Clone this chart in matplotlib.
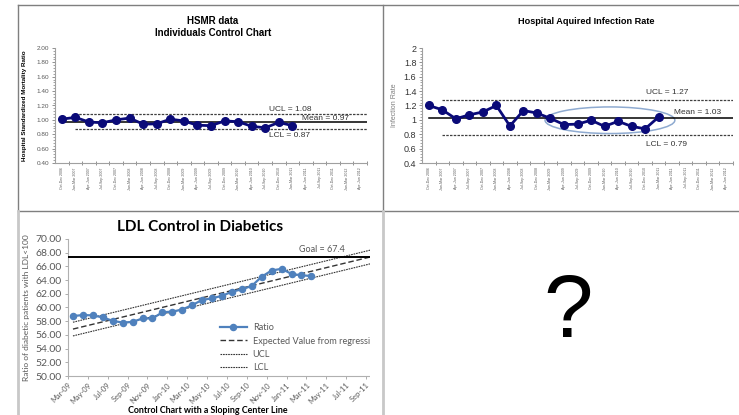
import matplotlib
matplotlib.use('Agg')
import matplotlib.pyplot as plt
import numpy as np
from matplotlib.lines import Line2D
from matplotlib.patches import Ellipse, Rectangle
from matplotlib.ticker import AutoMinorLocator, FixedLocator

# quarters shared by the two top charts
quarters = ['Oct-Dec 2006', 'Jan-Mar 2007', 'Apr-Jun 2007', 'Jul-Sep 2007',
            'Oct-Dec 2007', 'Jan-Mar 2008', 'Apr-Jun 2008', 'Jul-Sep 2008',
            'Oct-Dec 2008', 'Jan-Mar 2009', 'Apr-Jun 2009', 'Jul-Sep 2009',
            'Oct-Dec 2009', 'Jan-Mar 2010', 'Apr-Jun 2010', 'Jul-Sep 2010',
            'Oct-Dec 2010', 'Jan-Mar 2011', 'Apr-Jun 2011', 'Jul-Sep 2011',
            'Oct-Dec 2011', 'Jan-Mar 2012', 'Apr-Jun 2012']

# HSMR individuals chart
hsmr = [1.01, 1.035, 0.97, 0.96, 1.00, 1.025, 0.94, 0.945, 1.01,
        0.985, 0.925, 0.92, 0.985, 0.975, 0.91, 0.89, 0.965, 0.92]
hsmr_ucl, hsmr_mean, hsmr_lcl = 1.08, 0.97, 0.87

# hospital acquired infection rate
infection = [1.20, 1.14, 1.015, 1.07, 1.11, 1.20, 0.915, 1.13, 1.095,
             1.02, 0.935, 0.94, 0.995, 0.91, 0.98, 0.91, 0.875, 1.04]
inf_ucl, inf_mean, inf_lcl = 1.27, 1.03, 0.79

# LDL control, monthly from Mar-09
ldl_ratio = [58.75, 58.9, 58.85, 58.55, 58.05, 57.8, 57.9, 58.4, 58.4,
             59.3, 59.4, 59.7, 60.35, 61.1, 61.35, 61.7, 62.3, 62.65,
             63.15, 64.5, 65.4, 65.65, 64.9, 64.7, 64.6]
ldl_goal = 67.4
# sloping center line and limits, value at Mar-09 and at Sep-11
reg_months = [0, 30]
reg_expected = [56.85, 67.4]
reg_ucl = [57.85, 68.4]
reg_lcl = [55.85, 66.4]
month_labels = ['Mar-09', 'May-09', 'Jul-09', 'Sep-09', 'Nov-09', 'Jan-10',
                'Mar-10', 'May-10', 'Jul-10', 'Sep-10', 'Nov-10', 'Jan-11',
                'Mar-11', 'May-11', 'Jul-11', 'Sep-11']

W, H = 739, 415
NAVY = '#0a0a78'
GREY_TXT = '#595959'


def fx(px):
    return px / W


def fy(py):
    return 1 - py / H


def box(l, t, r, b):
    return [fx(l), fy(b), fx(r) - fx(l), fy(t) - fy(b)]


def quarterly_chart(ax, values, ucl, mean, lcl):
    n = len(quarters)
    x = np.arange(len(values))
    ax.plot(x, values, color=NAVY, lw=2, marker='o', ms=5.5, zorder=4)
    ax.plot([0, n - 0.5], [mean, mean], color='black', lw=1.1, zorder=3)
    for v in (ucl, lcl):
        ax.plot([1, n - 0.5], [v, v], color='#404040', lw=0.9,
                linestyle=(0, (2, 1)), zorder=3)
    ax.set_xlim(-0.5, n - 0.5)
    ax.set_ylim(0.4, 2.0)
    ax.set_xticks(np.arange(n))
    ax.set_xticklabels(quarters, rotation=90, fontsize=2.6, color=GREY_TXT)
    ax.xaxis.set_minor_locator(FixedLocator(np.arange(n) + 0.5))
    ax.tick_params(axis='x', which='major', length=0, pad=3)
    ax.tick_params(axis='x', which='minor', length=2.5, width=0.6,
                   color='#808080', direction='inout')
    ax.set_yticks(np.arange(0.4, 2.01, 0.2))
    ax.yaxis.set_minor_locator(AutoMinorLocator(5))
    ax.tick_params(axis='y', which='major', length=2.5, width=0.6,
                   color='#808080', pad=1.5)
    ax.tick_params(axis='y', which='minor', length=1.5, width=0.5,
                   color='#808080')
    for s in ('top', 'right'):
        ax.spines[s].set_visible(False)
    for s in ('left', 'bottom'):
        ax.spines[s].set_color('#a0a0a0')
        ax.spines[s].set_linewidth(0.8)


plt.rcParams['font.family'] = ['Liberation Sans', 'DejaVu Sans']
fig = plt.figure(figsize=(W / 100, H / 100), dpi=100)
fig.patch.set_facecolor('white')

# --- HSMR ---
ax1 = fig.add_axes(box(55, 48, 367, 163))
quarterly_chart(ax1, hsmr, hsmr_ucl, hsmr_mean, hsmr_lcl)
ax1.set_yticklabels(['%.2f' % v for v in np.arange(0.4, 2.01, 0.2)],
                    fontsize=4.6, color=GREY_TXT)
ax1.set_ylabel('Hospital Standardized Mortality Ratio', fontsize=4.5,
               fontweight='bold', labelpad=7)
fig.text(fx(213), fy(21), 'HSMR data', ha='center', va='center',
         fontsize=7, fontweight='bold')
fig.text(fx(213), fy(33), 'Individuals Control Chart', ha='center',
         va='center', fontsize=7, fontweight='bold')
ax1.text(15.3, hsmr_ucl + 0.02, 'UCL = %.2f' % hsmr_ucl, fontsize=6,
         color='#333333', va='bottom')
ax1.text(17.7, hsmr_mean + 0.005, 'Mean = %.2f' % hsmr_mean, fontsize=6,
         color='#333333', va='bottom')
ax1.text(15.3, hsmr_lcl - 0.04, 'LCL = %.2f' % hsmr_lcl, fontsize=6,
         color='#333333', va='top')

# --- infection rate ---
ax2 = fig.add_axes(box(422, 48, 733, 163))
quarterly_chart(ax2, infection, inf_ucl, inf_mean, inf_lcl)
ax2.set_yticklabels(['%g' % round(v, 1) for v in np.arange(0.4, 2.01, 0.2)],
                    fontsize=6.5, color='#333333')
ax2.set_ylabel('Infection Rate', fontsize=5, color='#7f7f7f', labelpad=4)
fig.text(fx(586), fy(21), 'Hospital Aquired Infection Rate', ha='center',
         va='center', fontsize=6.6, fontweight='bold')
ax2.text(16.1, inf_ucl + 0.06, 'UCL = %.2f' % inf_ucl, fontsize=6,
         color='#333333', va='bottom')
ax2.text(18.1, inf_mean + 0.03, 'Mean = %.2f' % inf_mean, fontsize=6,
         color='#333333', va='bottom')
ax2.text(16.1, inf_lcl - 0.09, 'LCL = %.2f' % inf_lcl, fontsize=6,
         color='#333333', va='top')
ax2.add_patch(Ellipse((13.4, 0.995), 9.6, 0.37, fill=False,
                      edgecolor='#8eaad0', lw=1.1, zorder=2))

# --- LDL control ---
ax3 = fig.add_axes(box(68, 239, 370, 376))
months = np.arange(len(ldl_ratio))
ax3.plot(reg_months, reg_ucl, color='#333333', lw=0.8,
         linestyle=(0, (1.5, 0.8)), label='UCL', zorder=2)
ax3.plot(reg_months, reg_lcl, color='#333333', lw=0.8,
         linestyle=(0, (1.5, 0.8)), label='LCL', zorder=2)
ax3.plot(reg_months, reg_expected, color='#333333', lw=1,
         linestyle=(0, (4, 2)), label='Expected Value from regression',
         zorder=2)
ax3.plot(months, ldl_ratio, color='#4f81bd', lw=1.6, marker='o', ms=4.4,
         label='Ratio', zorder=4)
ax3.axhline(ldl_goal, color='black', lw=1.4, zorder=3)
ax3.text(22.8, ldl_goal + 0.35, 'Goal = %.1f' % ldl_goal, fontsize=6.5,
         color='#595959', va='bottom', family='Lato')
ax3.set_xlim(-0.5, 29.9)
ax3.set_ylim(50, 70)
ax3.set_yticks(np.arange(50, 70.1, 2))
ax3.set_yticklabels(['%.2f' % v for v in np.arange(50, 70.1, 2)],
                    fontsize=7.5, color=GREY_TXT, family='Lato')
ax3.set_xticks(np.arange(len(month_labels)) * 2 - 0.5)
ax3.set_xticklabels(month_labels, rotation=45, ha='right',
                    rotation_mode='anchor', fontsize=5.4, color=GREY_TXT,
                    family='Lato')
ax3.tick_params(axis='both', length=2.5, width=0.6, color='#a0a0a0', pad=2)
ax3.tick_params(axis='x', pad=1.5)
for s in ('top', 'right'):
    ax3.spines[s].set_visible(False)
for s in ('left', 'bottom'):
    ax3.spines[s].set_color('#b0b0b0')
    ax3.spines[s].set_linewidth(0.8)
ax3.set_ylabel('Ratio of diabetic patients with LDL<100', fontsize=6,
               color=GREY_TXT, family='Lato', labelpad=4)
handles, labels = ax3.get_legend_handles_labels()
order = [3, 2, 0, 1]
ax3.legend([handles[i] for i in order], [labels[i] for i in order],
           loc='upper left', bbox_to_anchor=(0.49, 0.41), frameon=False,
           prop={'family': 'Lato', 'size': 6.6}, labelcolor=GREY_TXT,
           handlelength=3.0, handletextpad=0.6, labelspacing=0.45,
           borderaxespad=0)
fig.text(fx(200), fy(227), 'LDL Control in Diabetics', ha='center',
         va='center', fontsize=11, fontweight='bold', family='Lato')
fig.text(fx(208), fy(410), 'Control Chart with a Sloping Center Line',
         ha='center', va='center', fontsize=6.4, fontweight='bold',
         family='Lato')

# bottom-left picture ends before the divider
fig.add_artist(Rectangle((fx(370), fy(415)), fx(382) - fx(370),
                         fy(212) - fy(415), transform=fig.transFigure,
                         facecolor='white', edgecolor='none', zorder=10))

# panel frame lines
dark = '#7f7f7f'
light = '#c8c8c8'
frame = [((18, 739), (5, 5), dark, 1),
         ((18, 739), (211, 211), dark, 1),
         ((18, 18), (5, 211), dark, 1),
         ((383, 383), (5, 211), dark, 1),
         ((18, 18), (211, 415), light, 2),
         ((383, 383), (211, 415), light, 2)]
for xs, ys, c, lw in frame:
    fig.add_artist(Line2D([fx(xs[0]), fx(xs[1])], [fy(ys[0]), fy(ys[1])],
                          transform=fig.transFigure, color=c, lw=lw,
                          zorder=11))

fig.text(fx(568), fy(314), '?', ha='center', va='center', fontsize=64,
         color='black')

fig.savefig('out.png', dpi=100)
